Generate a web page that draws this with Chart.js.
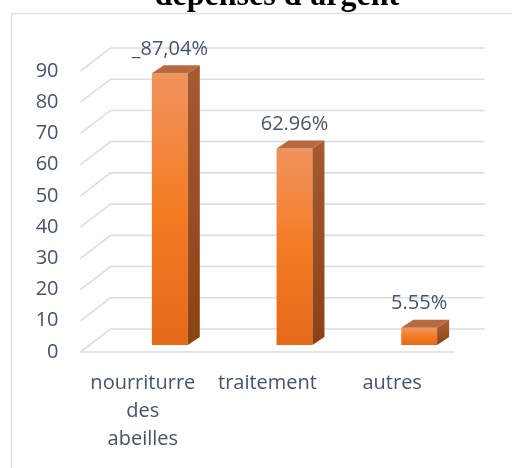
<!DOCTYPE html>
<html>
<head>
<meta charset="utf-8">
<script src="https://cdn.jsdelivr.net/npm/chart.js@4.4.1/dist/chart.umd.min.js"></script>
<style>
  html, body { margin: 0; padding: 0; background: #ffffff; }
  #wrap { position: relative; width: 512px; height: 468px; }
</style>
</head>
<body>
<div id="wrap"><canvas id="c" width="512" height="468"></canvas></div>
<script>
// Spending categories and their shares (%)
const categories = [["nourriturre", "des", "abeilles"], "traitement", "autres"];
const shares = [87.04, 62.96, 5.55];
const shareLabels = ["_87,04%", "62.96%", "5.55%"];
const yTicks = [0, 10, 20, 30, 40, 50, 60, 70, 80, 90];

const chartTitle = "dépenses d'argent";
const textColor = "#44546A";
const gridColor = "#DADDE2";
const uiFont = "'Open Sans', Lato, sans-serif";

// 3D look: wall offset for gridlines, bar offset and bar depth
const WALL_DX = 30, WALL_DY = -23;
const BAR_DX = 27, BAR_DY = -7;
const DEPTH_DX = 12, DEPTH_DY = -8;

function frontGradient(ctx, top, bottom) {
  const g = ctx.createLinearGradient(0, top, 0, bottom);
  g.addColorStop(0, "#F1935E");
  g.addColorStop(0.5, "#F47C24");
  g.addColorStop(1, "#E4691A");
  return g;
}

const frame3d = {
  id: "frame3d",
  beforeDraw(chart) {
    const ctx = chart.ctx;
    ctx.save();
    // outer chart frame
    ctx.strokeStyle = "#DCE0E5";
    ctx.lineWidth = 1.5;
    ctx.strokeRect(11.5, 13.5, 520, 480);
    // title
    ctx.fillStyle = "#000000";
    ctx.font = "bold 32px 'Liberation Serif', 'Times New Roman', serif";
    ctx.textAlign = "center";
    ctx.textBaseline = "alphabetic";
    ctx.fillText(chartTitle, 277, 5);
    ctx.restore();
  },
  beforeDatasetsDraw(chart) {
    const ctx = chart.ctx;
    const y = chart.scales.y;
    const area = chart.chartArea;
    ctx.save();
    ctx.strokeStyle = gridColor;
    ctx.lineWidth = 1.6;
    yTicks.forEach(v => {
      const py = y.getPixelForValue(v);
      ctx.beginPath();
      ctx.moveTo(area.left, py);
      ctx.lineTo(area.left + WALL_DX, py + WALL_DY);
      ctx.lineTo(area.right + WALL_DX, py + WALL_DY);
      ctx.stroke();
      if (v === 0) {
        ctx.beginPath();
        ctx.moveTo(area.left, py);
        ctx.lineTo(area.right, py);
        ctx.stroke();
      }
    });
    ctx.restore();
    // bars sit a little behind the floor's front edge
    ctx.save();
    ctx.translate(BAR_DX, BAR_DY);
  },
  afterDatasetsDraw(chart) {
    const ctx = chart.ctx;
    const meta = chart.getDatasetMeta(0);
    meta.data.forEach((bar, i) => {
      const p = bar.getProps(["x", "y", "base", "width"], true);
      const left = p.x - p.width / 2, right = p.x + p.width / 2;
      // side face
      const sg = ctx.createLinearGradient(0, p.y, 0, p.base);
      sg.addColorStop(0, "#A4592F");
      sg.addColorStop(1, "#8A4315");
      ctx.fillStyle = sg;
      ctx.beginPath();
      ctx.moveTo(right, p.y);
      ctx.lineTo(right + DEPTH_DX, p.y + DEPTH_DY);
      ctx.lineTo(right + DEPTH_DX, p.base + DEPTH_DY);
      ctx.lineTo(right, p.base);
      ctx.closePath();
      ctx.fill();
      // top face
      ctx.fillStyle = "#B76A3F";
      ctx.beginPath();
      ctx.moveTo(left, p.y);
      ctx.lineTo(right, p.y);
      ctx.lineTo(right + DEPTH_DX, p.y + DEPTH_DY);
      ctx.lineTo(left + DEPTH_DX, p.y + DEPTH_DY);
      ctx.closePath();
      ctx.fill();
      // value label
      ctx.fillStyle = textColor;
      ctx.font = "20px " + uiFont;
      ctx.textAlign = "center";
      ctx.textBaseline = "middle";
      ctx.fillText(shareLabels[i], p.x, p.y - 24);
    });
    ctx.restore();
  }
};

new Chart(document.getElementById("c"), {
  type: "bar",
  data: {
    labels: categories,
    datasets: [{
      data: shares,
      backgroundColor(c) {
        const chart = c.chart;
        if (!chart.chartArea || c.parsed === undefined || c.parsed.y === undefined) return "#F47C24";
        const ys = chart.scales.y;
        return frontGradient(chart.ctx, ys.getPixelForValue(c.parsed.y), ys.getPixelForValue(0));
      },
      borderWidth: 0,
      barPercentage: 0.288,
      categoryPercentage: 1.0
    }]
  },
  options: {
    responsive: false,
    animation: false,
    events: [],
    layout: { padding: { left: 0, right: 57.5, top: 71, bottom: 0 } },
    plugins: { legend: { display: false }, tooltip: { enabled: false }, title: { display: false } },
    scales: {
      x: {
        grid: { display: false, drawTicks: false },
        border: { display: false },
        ticks: {
          color: textColor,
          font: { family: uiFont, size: 20, lineHeight: 1.4 },
          padding: 17,
          maxRotation: 0,
          autoSkip: false
        },
        afterFit(s) { s.height = 116; }
      },
      y: {
        min: 0,
        max: 90,
        grid: { display: false, drawTicks: false },
        border: { display: false },
        ticks: {
          stepSize: 10,
          color: textColor,
          font: { family: uiFont, size: 20 },
          padding: 22
        },
        afterFit(s) { s.width = 80.5; }
      }
    }
  },
  plugins: [frame3d]
});
</script>
</body>
</html>
